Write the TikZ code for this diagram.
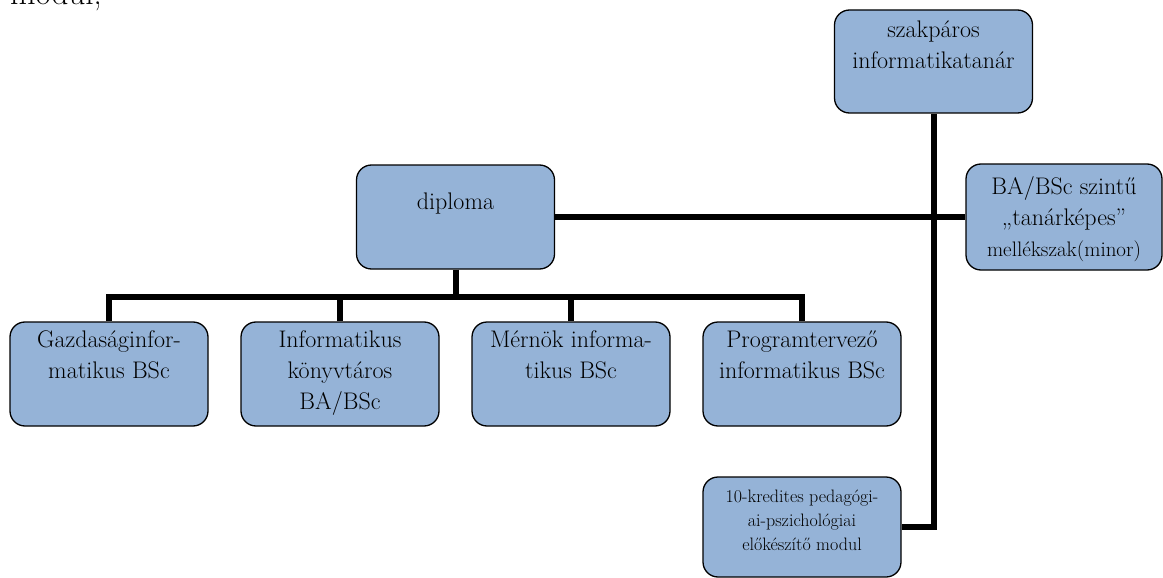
\documentclass[tikz,border=0pt]{standalone}
\usepackage{fontspec}
\definecolor{boxblue}{RGB}{149,179,215}
\tikzstyle{bx}=[draw=black, line width=1.3pt, fill=boxblue, rounded corners=15pt, inner sep=0pt, font=\fontsize{24}{31}\selectfont]
\tikzstyle{ln}=[draw=black, line width=6pt]
\newcommand{\boxtext}[4][198pt]{\parbox[c][#2][t]{#1}{\centering\vspace*{#3}\strut #4\par}}

\begin{document}
\begin{tikzpicture}[x=1pt, y=-1pt]
\useasboundingbox (0,0) rectangle (1163,578);
\clip (0,0) rectangle (1163,578);

% end of the text above the chart
\node[anchor=base west, inner sep=0pt, font=\fontsize{33}{40}\selectfont] (prev) at (10,5) {modul;};

% boxes
\node[bx] (szak) at (933.5,61.5) {\boxtext{103pt}{6pt}{szakpáros\\informatikatanár}};
\node[bx] (dip) at (455.5,217) {\boxtext{104pt}{23pt}{diploma}};
\node[bx] (ba) at (1064,217) {\boxtext[196pt]{106pt}{9pt}{BA/BSc szintű\\„tanárképes”\\{\fontsize{21}{28}\selectfont mellékszak(minor)}}};

\node[bx] (gaz) at (109,374) {\boxtext{104pt}{4pt}{Gazdaságinfor-\\matikus BSc}};
\node[bx] (inf) at (340,374) {\boxtext{104pt}{4pt}{Informatikus\\könyvtáros\\BA/BSc}};
\node[bx] (mer) at (571,374) {\boxtext{104pt}{4pt}{Mérnök informa-\\tikus BSc}};
\node[bx] (prog) at (802,374) {\boxtext{104pt}{4pt}{Programtervező\\informatikus BSc}};

\node[bx, font=\fontsize{18}{24}\selectfont] (mod) at (802,527) {\boxtext{100pt}{9pt}{10-kredites pedagógi-\\ai-pszichológiai\\előkészítő modul}};

% connectors
\coordinate (bus) at (455.5,297);
\draw[ln] (dip.south) -- (bus);
\draw[ln] (gaz.north) |- (bus) -| (prog.north);
\draw[ln] (inf.north) -- (inf.north |- bus);
\draw[ln] (mer.north) -- (mer.north |- bus);

\draw[ln] (szak.south) |- (mod.east);
\draw[ln] (dip.east) -- (ba.west);

\end{tikzpicture}
\end{document}
